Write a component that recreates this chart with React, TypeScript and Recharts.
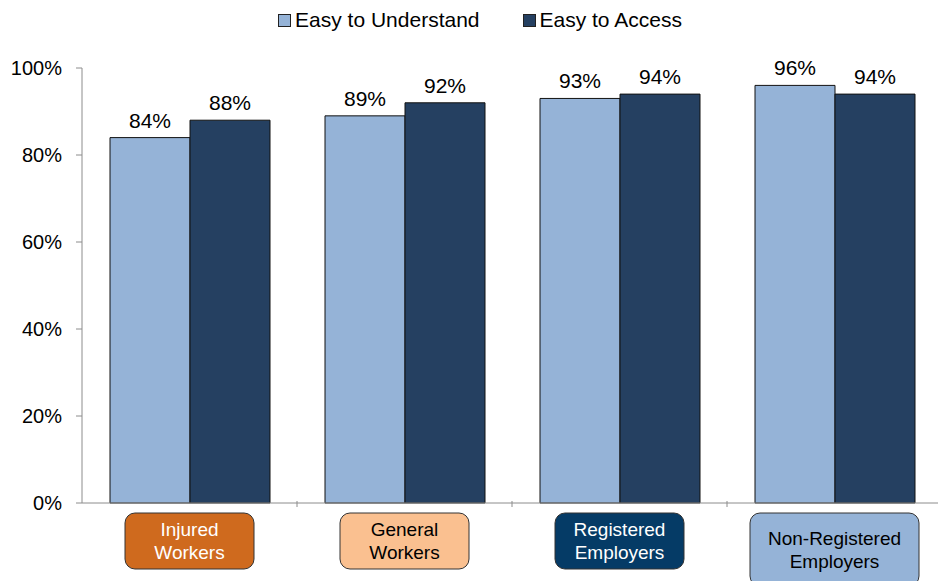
import { BarChart, Bar, XAxis, YAxis, LabelList } from 'recharts'

const categories = ['Injured Workers', 'General Workers', 'Registered Employers', 'Non-Registered Employers']
const easyToUnderstand = [84, 89, 93, 96]
const easyToAccess = [88, 92, 94, 94]
const yTicks = [0, 20, 40, 60, 80, 100]

const chartData = categories.map((name, i) => ({
  name,
  understand: easyToUnderstand[i],
  access: easyToAccess[i],
}))

const lightBlue = '#95B3D7'
const darkBlue = '#254061'
const axisColor = '#8C8C8C'
const font = '"Liberation Sans", Arial, sans-serif'

// label box look per category
const boxStyles: Record<string, { fill: string; text: string; w: number; h: number; lines: string[] }> = {
  'Injured Workers': { fill: '#CF6A1E', text: '#FFFFFF', w: 129, h: 56, lines: ['Injured', 'Workers'] },
  'General Workers': { fill: '#FAC090', text: '#000000', w: 129, h: 56, lines: ['General', 'Workers'] },
  'Registered Employers': { fill: '#053B66', text: '#FFFFFF', w: 129, h: 56, lines: ['Registered', 'Employers'] },
  'Non-Registered Employers': { fill: lightBlue, text: '#000000', w: 169, h: 73, lines: ['Non-Registered', 'Employers'] },
}

const CHART_W = 938
const CHART_H = 581
const LEFT = 82
const band = (CHART_W - LEFT + 4) / categories.length

function CategoryTick(props: any) {
  const { x, y, payload } = props
  const s = boxStyles[payload.value]
  const top = y + 2
  const mid = top + s.h / 2
  return (
    <g>
      <line x1={x + band / 2} x2={x + band / 2} y1={y - 10} y2={y - 4} stroke={axisColor} />
      <rect x={x - s.w / 2} y={top} width={s.w} height={s.h} rx={10} ry={10} fill={s.fill} stroke="#333" strokeWidth={1} />
      <text x={x} y={mid - 11.5} textAnchor="middle" dominantBaseline="central" fill={s.text} fontSize={19} fontFamily={font}>
        {s.lines[0]}
      </text>
      <text x={x} y={mid + 11.5} textAnchor="middle" dominantBaseline="central" fill={s.text} fontSize={19} fontFamily={font}>
        {s.lines[1]}
      </text>
    </g>
  )
}

function LegendBar() {
  const items = [
    { label: 'Easy to Understand', color: lightBlue },
    { label: 'Easy to Access', color: darkBlue },
  ]
  return (
    <div
      style={{
        position: 'absolute',
        top: 7,
        left: 0,
        width: CHART_W,
        display: 'flex',
        justifyContent: 'center',
        gap: 43,
        fontFamily: font,
        fontSize: 21,
        lineHeight: '26px',
        color: '#000',
        paddingLeft: 22,
        boxSizing: 'border-box',
      }}
    >
      {items.map((it) => (
        <div key={it.label} style={{ display: 'flex', alignItems: 'center' }}>
          <span
            style={{
              width: 11,
              height: 11,
              background: it.color,
              border: '1px solid #222',
              marginRight: 4,
              display: 'inline-block',
            }}
          />
          <span>{it.label}</span>
        </div>
      ))}
    </div>
  )
}

export default function App() {
  return (
    <div style={{ position: 'absolute', top: 0, left: 0, width: CHART_W, height: CHART_H, background: '#fff', overflow: 'hidden' }}>
      <LegendBar />
      <BarChart
        width={CHART_W + 4}
        height={CHART_H}
        data={chartData}
        margin={{ top: 68, right: 0, left: 0, bottom: 0 }}
        barCategoryGap={28}
        barGap={0}
      >
        <XAxis
          dataKey="name"
          axisLine={{ stroke: axisColor }}
          tickLine={false}
          tick={<CategoryTick />}
          height={78}
          interval={0}
        />
        <YAxis
          domain={[0, 100]}
          ticks={yTicks}
          width={LEFT}
          axisLine={{ stroke: axisColor }}
          tickLine={{ stroke: axisColor }}
          tickSize={6}
          tickMargin={14}
          tickFormatter={(v: number) => `${v}%`}
          tick={{ fill: '#000', fontSize: 20, fontFamily: font }}
        />
        <Bar dataKey="understand" fill={lightBlue} stroke="#111" strokeWidth={1} isAnimationActive={false}>
          <LabelList
            dataKey="understand"
            position="top"
            offset={10}
            formatter={(v: any) => `${v}%`}
            style={{ fill: '#000', fontSize: 21, fontFamily: font }}
          />
        </Bar>
        <Bar dataKey="access" fill={darkBlue} stroke="#111" strokeWidth={1} isAnimationActive={false}>
          <LabelList
            dataKey="access"
            position="top"
            offset={10}
            formatter={(v: any) => `${v}%`}
            style={{ fill: '#000', fontSize: 21, fontFamily: font }}
          />
        </Bar>
      </BarChart>
    </div>
  )
}
